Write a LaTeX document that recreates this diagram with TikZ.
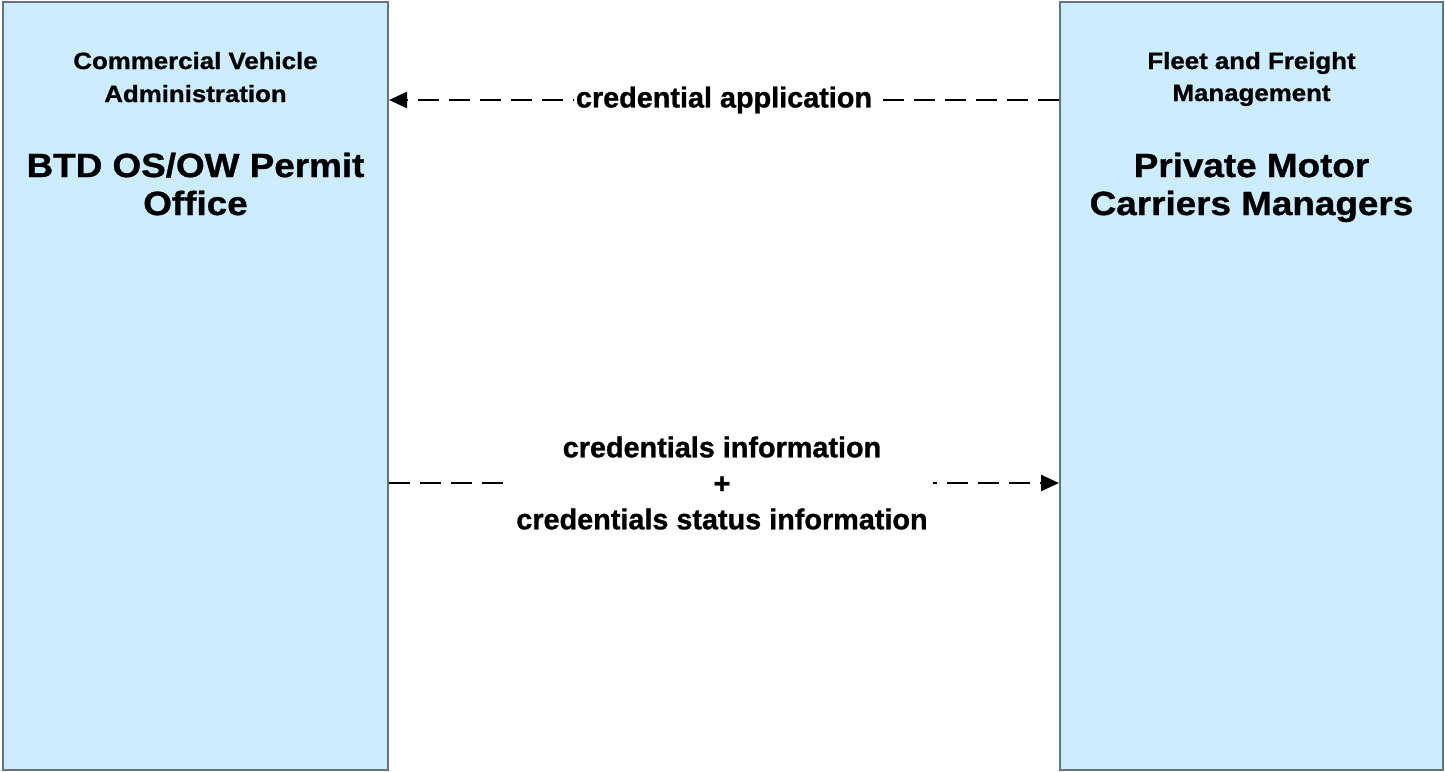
\documentclass[tikz,border=0pt]{standalone}
\usepackage{fontspec}
\setmainfont{Liberation Sans}[BoldFeatures={FakeBold=1}]
\newfontfamily\boxfont{Liberation Sans}[FakeStretch=1.1,BoldFeatures={FakeBold=1}]
\usetikzlibrary{arrows.meta}
\definecolor{boxfill}{HTML}{CCECFF}
\definecolor{boxline}{HTML}{66727D}
\begin{document}
\begin{tikzpicture}[x=1pt,y=-1pt,
  box/.style={draw=boxline, fill=boxfill, line width=2pt, inner sep=0pt},
  small/.style={font=\boxfont\bfseries\fontsize{23.5}{33}\selectfont, inner sep=0pt, anchor=base},
  title/.style={font=\boxfont\bfseries\fontsize{33.5}{39}\selectfont, inner sep=0pt, anchor=base},
  flow/.style={line width=2.5pt, dash pattern=on 21pt off 10pt, -{Triangle[length=18pt,width=16pt]}},
  lbl/.style={font=\bfseries\fontsize{28.8}{36}\selectfont, fill=white, align=center, inner xsep=2pt, inner ysep=2pt}
]
\useasboundingbox (0,0) rectangle (1445,771);
\node[box, minimum width=385pt, minimum height=768pt] (L) at (195.5,386) {};
\node[box, minimum width=383pt, minimum height=768pt] (R) at (1251.5,386) {};

\node[small] (l1) at (195.5,69) {Commercial Vehicle};
\node[small] (l2) at (195.5,102) {Administration};
\node[title] (l3) at (195.5,177) {BTD OS/OW Permit};
\node[title] (l4) at (195.5,215) {Office};

\node[small] (r1) at (1251.5,69) {Fleet and Freight};
\node[small] (r2) at (1251.5,101) {Management};
\node[title] (r3) at (1251.5,177) {Private Motor};
\node[title] (r4) at (1251.5,215) {Carriers Managers};

\draw[flow] (R.west |- 0,100) -- node[lbl] {credential application} (L.east |- 0,100);
\draw[flow] (L.east |- 0,483) -- node[lbl, inner xsep=5pt, xshift=-2pt] {credentials information\\+\\credentials status information} (R.west |- 0,483);
\end{tikzpicture}
\end{document}
